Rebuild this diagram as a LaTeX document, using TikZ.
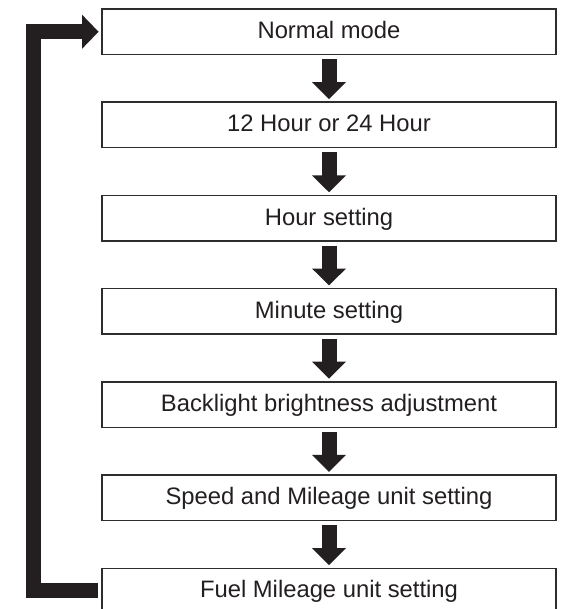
\documentclass[tikz,border=0pt]{standalone}
\usepackage{fontspec}
\setmainfont{Liberation Sans}
\usetikzlibrary{arrows.meta}
\definecolor{ink}{RGB}{35,31,32}
\definecolor{edge}{RGB}{45,45,45}
\tikzset{
  stepbox/.style={draw=edge, line width=1.4pt, fill=white, minimum width=454pt, minimum height=45.5pt,
    inner sep=0pt, text=ink, font=\fontsize{23.8}{28}\selectfont, text height=14pt, text depth=0pt},
  flowarrow/.style={draw=ink, line width=15pt, -{Triangle[length=17pt,width=33pt]}},
  looparrow/.style={draw=ink, line width=15pt, line join=miter, -{Triangle[length=16.5pt,width=33pt]}}
}
\begin{document}
\begin{tikzpicture}[x=1pt,y=-1pt]
\clip (0,0) rectangle (560,609);
\fill[white] (0,0) rectangle (560,609);
\node[stepbox] (a) at (329,31.75) {Normal mode};
\node[stepbox] (b) at (329,124.95) {12 Hour or 24 Hour};
\node[stepbox] (c) at (329,218.15) {Hour setting};
\node[stepbox] (d) at (329,311.35) {Minute setting};
\node[stepbox] (e) at (329,404.55) {Backlight brightness adjustment};
\node[stepbox] (f) at (329,497.75) {Speed and Mileage unit setting};
\node[stepbox] (g) at (329,590.95) {Fuel Mileage unit setting};
\foreach \u/\v in {a/b,b/c,c/d,d/e,e/f,f/g}{
  \draw[flowarrow] ([yshift=-4pt]\u.south) -- ([yshift=2.4pt]\v.north);
}
\coordinate (lx) at (33.8,0);
\draw[looparrow] ([xshift=-3.7pt]g.west) -| (lx |- a.west) -- ([xshift=-2.7pt]a.west);
\end{tikzpicture}
\end{document}
